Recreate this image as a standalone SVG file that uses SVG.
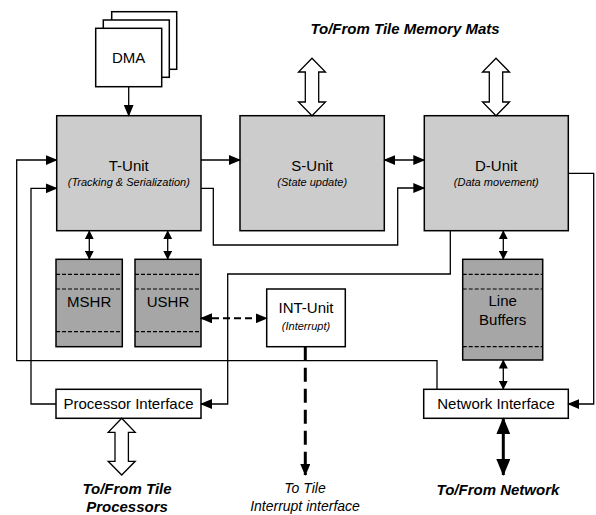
<svg xmlns="http://www.w3.org/2000/svg" width="596" height="515" viewBox="0 0 596 515">
<defs>
<marker id="ah" markerUnits="userSpaceOnUse" markerWidth="12" markerHeight="10" refX="11" refY="5" orient="auto-start-reverse" viewBox="0 0 12 10">
<path d="M0,0 L12,5 L0,10 z" fill="#000"/>
</marker>
<marker id="ahs" markerUnits="userSpaceOnUse" markerWidth="9" markerHeight="9" refX="8.5" refY="4.5" orient="auto-start-reverse" viewBox="0 0 9 9">
<path d="M0,0 L9,4.5 L0,9 z" fill="#000"/>
</marker>
<marker id="ahb" markerUnits="userSpaceOnUse" markerWidth="17" markerHeight="14" refX="16" refY="7" orient="auto-start-reverse" viewBox="0 0 17 14">
<path d="M0,0 L17,7 L0,14 z" fill="#000"/>
</marker>
</defs>
<style>
text{font-family:"Liberation Sans",Arial,sans-serif;fill:#000}
.t{font-size:15px;text-anchor:middle}
.s{font-size:11px;font-style:italic;text-anchor:middle}
.b{font-size:15px;font-weight:bold;font-style:italic;text-anchor:middle}
.i{font-size:14px;font-style:italic;text-anchor:middle}
.unit{fill:#cccccc;stroke:#000;stroke-width:1.5}
.buf{fill:#a6a6a6;stroke:#000;stroke-width:1.5}
.wb{fill:#fff;stroke:#000;stroke-width:1.5}
.dl{stroke:#000;stroke-width:1.2;stroke-dasharray:4,2;fill:none}
.c{fill:none;stroke:#000;stroke-width:1.3}
.ar{marker-end:url(#ah)}
.ar2{marker-start:url(#ah);marker-end:url(#ah)}
.sm{marker-start:url(#ahs);marker-end:url(#ahs)}
.hol{fill:#fff;stroke:#000;stroke-width:1.3}
</style>

<g id="dma">
<rect class="wb" x="111.7" y="11.7" width="65" height="57.6"/>
<rect class="wb" x="103.3" y="20" width="66" height="57.3"/>
<rect class="wb" x="95.7" y="28.3" width="66" height="58.4"/>
<text class="t" x="128.7" y="63">DMA</text>
</g>

<g id="t-unit">
<rect class="unit" x="56.7" y="115.7" width="144.3" height="115"/>
<text class="t" x="128.8" y="171">T-Unit</text>
<text class="s" x="128.8" y="186">(Tracking &amp; Serialization)</text>
</g>

<g id="s-unit">
<rect class="unit" x="240" y="115.7" width="144.3" height="115"/>
<text class="t" x="312.2" y="171">S-Unit</text>
<text class="s" x="312.2" y="186">(State update)</text>
</g>

<g id="d-unit">
<rect class="unit" x="424.3" y="115.7" width="144" height="115"/>
<text class="t" x="496.3" y="171">D-Unit</text>
<text class="s" x="496.3" y="186">(Data movement)</text>
</g>

<g id="mshr">
<rect class="buf" x="56" y="259.3" width="66.3" height="87.4"/>
<line class="dl" x1="56" y1="274.3" x2="122.3" y2="274.3"/>
<line class="dl" x1="56" y1="289" x2="122.3" y2="289"/>
<line class="dl" x1="56" y1="331.7" x2="122.3" y2="331.7"/>
<text class="t" x="89.2" y="307">MSHR</text>
</g>

<g id="ushr">
<rect class="buf" x="135" y="259.3" width="66" height="87.4"/>
<line class="dl" x1="135" y1="274.3" x2="201" y2="274.3"/>
<line class="dl" x1="135" y1="289" x2="201" y2="289"/>
<line class="dl" x1="135" y1="331.7" x2="201" y2="331.7"/>
<text class="t" x="168" y="307">USHR</text>
</g>

<g id="int-unit">
<rect class="wb" x="266.7" y="289" width="78.6" height="57.7"/>
<text class="t" x="306" y="313">INT-Unit</text>
<text class="s" x="306" y="330">(Interrupt)</text>
</g>

<g id="line-buffers">
<rect class="buf" x="462.7" y="259.3" width="80" height="100.7"/>
<line class="dl" x1="462.7" y1="274.3" x2="542.7" y2="274.3"/>
<line class="dl" x1="462.7" y1="289" x2="542.7" y2="289"/>
<line class="dl" x1="462.7" y1="346.7" x2="542.7" y2="346.7"/>
<text class="t" x="502.7" y="306">Line</text>
<text class="t" x="502.7" y="325">Buffers</text>
</g>

<g id="processor-interface">
<rect class="wb" x="56" y="389.3" width="145" height="29"/>
<text class="t" x="128.5" y="409">Processor Interface</text>
</g>

<g id="network-interface">
<rect class="wb" x="423.7" y="389.3" width="144.6" height="29"/>
<text class="t" x="496" y="409">Network Interface</text>
</g>

<g id="labels">
<text class="b" x="405" y="34">To/From Tile Memory Mats</text>
<text class="b" x="127" y="494">To/From Tile</text>
<text class="b" x="127" y="512">Processors</text>
<text class="i" x="305" y="493">To Tile</text>
<text class="i" x="305" y="511">Interrupt interface</text>
<text class="b" x="498" y="495">To/From Network</text>
</g>

<g id="connectors">
<line class="c ar" x1="128.7" y1="86.7" x2="128.7" y2="115.7"/>
<line class="c ar" x1="201" y1="160" x2="240" y2="160"/>
<line class="c ar2" x1="384.3" y1="160" x2="424.3" y2="160"/>
<path class="c ar" d="M201,188.3 H213.3 V245 H397.7 V188 H424.3"/>
<path class="c ar" d="M568.3,173.3 H593.7 V404 H568.3"/>
<path class="c ar" d="M450.3,230.7 V274 H227.7 V404 H201"/>
<path class="c ar" d="M437,389.3 V360.7 H16.7 V160 H56.7"/>
<path class="c ar" d="M56,404 H31 V188.3 H56.7"/>
<line class="c sm" x1="89.3" y1="230.7" x2="89.3" y2="259.3"/>
<line class="c sm" x1="167.7" y1="230.7" x2="167.7" y2="259.3"/>
<line class="c sm" x1="503.3" y1="230.7" x2="503.3" y2="259.3"/>
<line class="c sm" x1="503.3" y1="360" x2="503.3" y2="389.3"/>
<line x1="201" y1="318.3" x2="266.7" y2="318.3" stroke="#000" stroke-width="2" stroke-dasharray="7,4" marker-start="url(#ah)" marker-end="url(#ah)"/>
<line x1="305.3" y1="346.7" x2="305.3" y2="475" stroke="#000" stroke-width="3" stroke-dasharray="14,7" marker-end="url(#ah)"/>
<line x1="503.3" y1="418.3" x2="503.3" y2="475" stroke="#000" stroke-width="3" marker-start="url(#ahb)" marker-end="url(#ahb)"/>
<polygon class="hol" points="312,58.3 325.5,72 318.7,72 318.7,102 325.5,102 312,115.7 298.5,102 305.3,102 305.3,72 298.5,72"/>
<polygon class="hol" points="496,58.3 509.5,72 502.7,72 502.7,102 509.5,102 496,115.7 482.5,102 489.3,102 489.3,72 482.5,72"/>
<polygon class="hol" points="121.7,418.3 135.2,432.3 128.4,432.3 128.4,461.3 135.2,461.3 121.7,475 108.2,461.3 115,461.3 115,432.3 108.2,432.3"/>
</g>
</svg>
